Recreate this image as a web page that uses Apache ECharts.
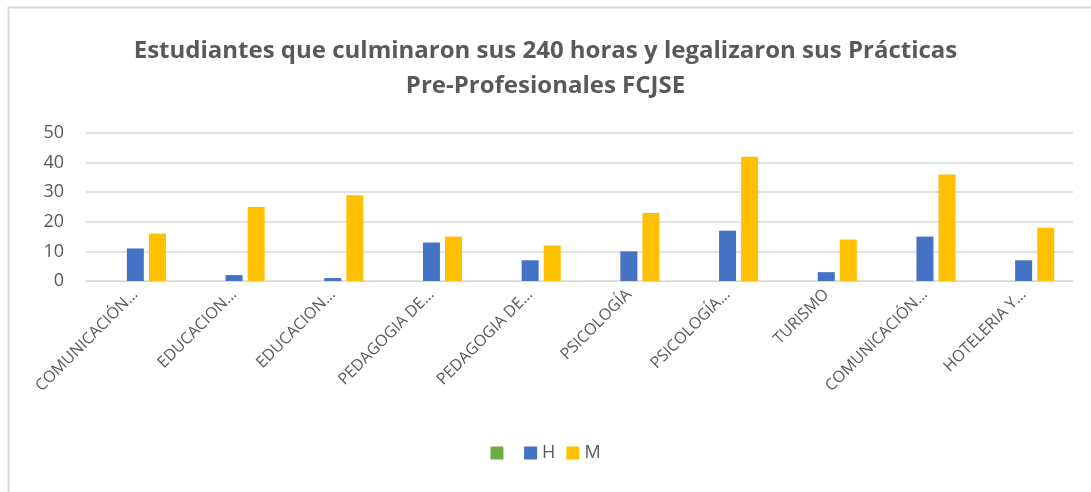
<!DOCTYPE html>
<html>
<head>
<meta charset="utf-8">
<script src="https://cdn.jsdelivr.net/npm/echarts@6/dist/echarts.min.js"></script>
<style>
    html, body { margin: 0; padding: 0; background: #fff; }
    #chart { width: 1091px; height: 492px; }
</style>
</head>
<body>
<div id="chart"></div>
<script>
// datos
var carreras = ['COMUNICACIÓN…', 'EDUCACION…', 'EDUCACION…', 'PEDAGOGIA DE…', 'PEDAGOGIA DE…',
    'PSICOLOGÍA', 'PSICOLOGÍA…', 'TURISMO', 'COMUNICACIÓN…', 'HOTELERIA Y…'];
var vacio = [null, null, null, null, null, null, null, null, null, null];
var hombres = [11, 2, 1, 13, 7, 10, 17, 3, 15, 7];
var mujeres = [16, 25, 29, 15, 12, 23, 42, 14, 36, 18];
var ticksY = [0, 10, 20, 30, 40, 50];

var fuente = 'Open Sans';
var grafico = echarts.init(document.getElementById('chart'));

option1 = {
    animation: false,
    textStyle: { fontFamily: fuente },
    title: {
        left: 'center',
        top: 29,
        text: 'Estudiantes que culminaron sus 240 horas y legalizaron sus Prácticas\nPre-Profesionales FCJSE',
        textStyle: {
            color: '#595959',
            fontSize: 24,
            fontWeight: 'bold',
            lineHeight: 35,
            fontFamily: fuente
        }
    },
    graphic: [{
        type: 'rect',
        shape: { x: 8.5, y: 7.5, width: 1100, height: 500 },
        style: { fill: 'none', stroke: '#d9d9d9', lineWidth: 2 },
        silent: true
    }],
    legend: {
        bottom: 25,
        left: 'center',
        itemWidth: 13,
        itemHeight: 13,
        itemGap: 11,
        icon: 'rect',
        textStyle: { color: '#595959', fontSize: 18, fontFamily: fuente },
        data: [' ', 'H', 'M']
    },
    grid: {
        left: 86,
        right: 18,
        top: 133,
        bottom: 211
    },
    xAxis: {
        type: 'category',
        data: carreras,
        axisLine: { lineStyle: { color: '#d9d9d9', width: 1 } },
        axisTick: { show: false },
        axisLabel: {
            rotate: 45,
            interval: 0,
            color: '#595959',
            fontSize: 16,
            margin: 11,
            fontFamily: fuente
        }
    },
    yAxis: {
        type: 'value',
        min: ticksY[0],
        max: ticksY[ticksY.length - 1],
        interval: 10,
        axisLine: { show: false },
        axisTick: { show: false },
        axisLabel: { color: '#595959', fontSize: 18, margin: 22, fontFamily: fuente },
        splitLine: { lineStyle: { color: '#d9d9d9', width: 1.5 } }
    },
    series: [{
        name: ' ',
        type: 'bar',
        barWidth: 17,
        barGap: '30%',
        data: vacio
    }, {
        name: 'H',
        type: 'bar',
        barWidth: 17,
        barGap: '30%',
        data: hombres
    }, {
        name: 'M',
        type: 'bar',
        barWidth: 17,
        barGap: '30%',
        data: mujeres
    }],
    color: ['#70AD47', '#4472C4', '#FFC000']
};
grafico.setOption(option1);
</script>
</body>
</html>
